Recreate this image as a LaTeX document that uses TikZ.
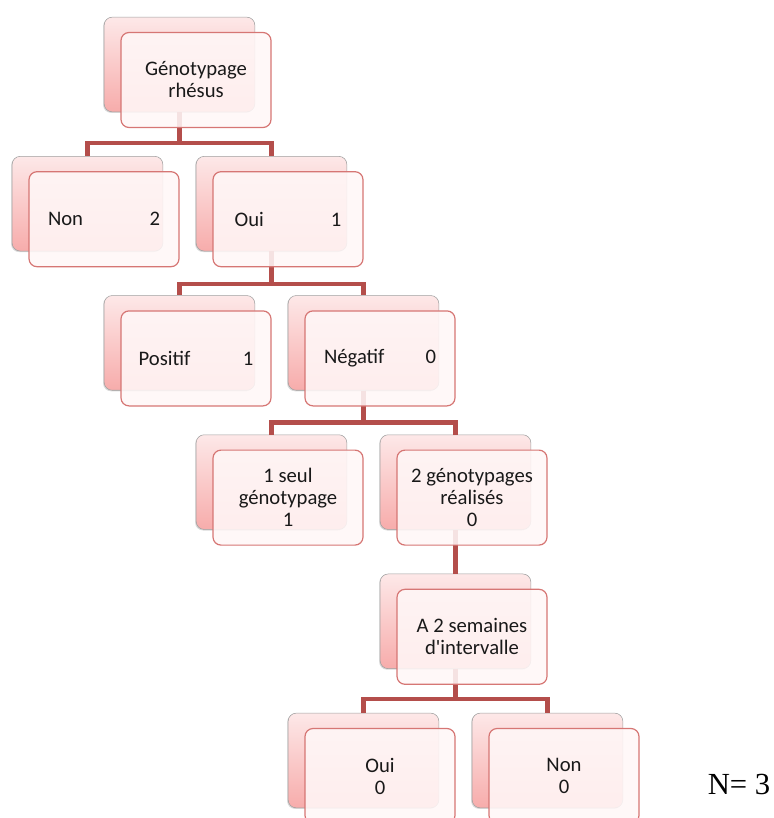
\documentclass[tikz,border=0pt]{standalone}
\usepackage{fontspec}
\setmainfont{Carlito}
\newfontfamily\timesfont{Liberation Serif}
\usetikzlibrary{shadows}

\definecolor{lienrouge}{RGB}{180,78,75}
\definecolor{bordrouge}{RGB}{214,118,116}
\definecolor{rosehaut}{RGB}{253,232,232}
\definecolor{rosebas}{RGB}{247,172,171}
\definecolor{roseclair}{RGB}{255,247,247}

\begin{document}
\begin{tikzpicture}[x=0.75pt,y=-0.75pt]
	\tikzstyle{fond} = [rectangle, draw=gray!75, top color=rosehaut, bottom color=rosebas, rounded corners=6pt, minimum width=113pt, minimum height=71pt, drop shadow={shadow xshift=-0.8pt, shadow yshift=-0.8pt, opacity=0.3}];
	\tikzstyle{avant} = [rectangle, draw=bordrouge, line width=0.9pt, fill=roseclair, fill opacity=0.88, text opacity=1, text=black!90, rounded corners=6pt, minimum width=112.5pt, minimum height=71.25pt, inner sep=0pt, align=center, font=\fontsize{15.5}{16.5}\selectfont];
	\tikzstyle{lien} = [draw=lienrouge, line width=3.2pt];
	\useasboundingbox (0,0) rectangle (774,818);
	\clip (0,0) rectangle (774,818);
	
	\node [fond] (rhesus) at (179.5,64.5) {};
	\node [fond] (non) at (87.5,203.7) {};
	\node [fond] (oui) at (271.5,203.7) {};
	\node [fond] (pos) at (179.5,342.9) {};
	\node [fond] (neg) at (363.5,342.9) {};
	\node [fond] (seul) at (271.5,482.1) {};
	\node [fond] (deux) at (455.5,482.1) {};
	\node [fond] (inter) at (455.5,621.3) {};
	\node [fond] (ouib) at (363.5,760.5) {};
	\node [fond] (nonb) at (547.5,760.5) {};
	
	\draw [lien] (rhesus.south) -- ++(0,31) -| (non.north);
	\draw [lien] (rhesus.south) -- ++(0,31) -| (oui.north);
	\draw [lien] (oui.south) -- ++(0,33) -| (pos.north);
	\draw [lien] (oui.south) -- ++(0,33) -| (neg.north);
	\draw [lien] (neg.south) -- ++(0,32) -| (seul.north);
	\draw [lien] (neg.south) -- ++(0,32) -| (deux.north);
	\draw [lien] (deux.south) -- (inter.north);
	\draw [lien] (inter.south) -- ++(0,30) -| (ouib.north);
	\draw [lien] (inter.south) -- ++(0,30) -| (nonb.north);
	
	\node [avant] (rhesusT) at ([shift={(16.5,15.5)}]rhesus.center) {Génotypage\\rhésus};
	\node [avant] (nonT) at ([shift={(16.5,15.5)}]non.center) {\makebox[84pt]{Non\hfill 2}};
	\node [avant] (ouiT) at ([shift={(16.5,15.5)}]oui.center) {\makebox[80pt]{Oui\hfill 1}};
	\node [avant] (posT) at ([shift={(16.5,15.5)}]pos.center) {\makebox[86pt]{Positif\hfill 1}};
	\node [avant] (negT) at ([shift={(16.5,15.5)}]neg.center) {\makebox[84pt]{Négatif\hfill 0}};
	\node [avant] (seulT) at ([shift={(16.5,15.5)}]seul.center) {1 seul\\génotypage\\1};
	\node [avant] (deuxT) at ([shift={(16.5,15.5)}]deux.center) {2 génotypages\\réalisés\\0};
	\node [avant] (interT) at ([shift={(16.5,15.5)}]inter.center) {A 2 semaines\\d\textquotesingle intervalle};
	\node [avant] (ouibT) at ([shift={(16.5,15.5)}]ouib.center) {Oui\\0};
	\node [avant] (nonbT) at ([shift={(16.5,15.5)}]nonb.center) {Non\\0};
	
	\node [font=\timesfont\fontsize{23}{23}\selectfont] (total) at (739,784) {N= 3};
\end{tikzpicture}
\end{document}
